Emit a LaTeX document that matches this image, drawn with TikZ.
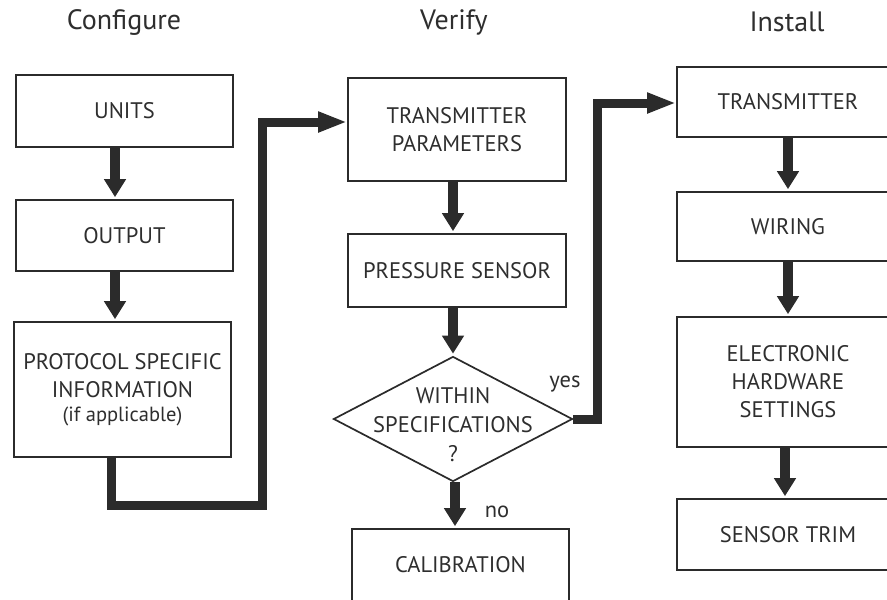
\documentclass[tikz,border=0pt]{standalone}
\usepackage{fontspec}
\setmainfont{PT Sans}
\usetikzlibrary{shapes.geometric,arrows.meta}
\definecolor{ink}{HTML}{2B2B2B}
\definecolor{txt}{HTML}{2E2E2E}
\begin{document}
\begin{tikzpicture}[x=1pt,y=-1pt,
  box/.style={draw=ink,line width=1.7pt,rectangle,minimum width=217pt,inner sep=0pt,
    text=txt,align=center,font=\fontsize{22.5}{28}\selectfont},
  dia/.style={draw=ink,line width=1.7pt,diamond,minimum width=239pt,minimum height=125pt,
    inner sep=0pt,text=txt,font=\fontsize{22.5}{29}\selectfont},
  title/.style={text=txt,font=\fontsize{28}{32}\selectfont,inner sep=0pt},
  lbl/.style={text=txt,font=\fontsize{22.5}{24}\selectfont,inner sep=0pt},
  varr/.style={draw=ink,line width=9.5pt,-{Triangle[length=18pt,width=21pt]},shorten >=2pt},
  elbow/.style={draw=ink,line width=9pt,line join=miter,-{Triangle[length=29pt,width=19pt]}},
]
\useasboundingbox (0,0) rectangle (887,600);
\clip (0,0) rectangle (887,600);
\fill[white] (0,0) rectangle (887,600);

% titles
\node[title] (tconf) at (124,22) {Configure};
\node[title] (tver) at (454,22) {Verify};
\node[title] (tinst) at (787,22) {Install};

% Configure column
\node[box,minimum height=72pt] (units) at (124.5,111) {UNITS};
\node[box,minimum height=71pt] (output) at (124.5,235.5) {OUTPUT};
\node[box,minimum height=135pt] (protocol) at (122.5,389.5)
  {\raisebox{5pt}{\begin{tabular}{@{}c@{}}PROTOCOL SPECIFIC\\INFORMATION\\[-4pt]{\fontsize{20.5}{22}\selectfont (if applicable)}\end{tabular}}};

% Verify column
\node[box,minimum width=218pt,minimum height=103pt] (tparam) at (457,129.5) {TRANSMITTER\\PARAMETERS};
\node[box,minimum width=218pt,minimum height=73pt] (psensor) at (457,270.5) {PRESSURE SENSOR};
\node[dia] (spec) at (453,419)
  {\smash{\makebox[0pt]{\raisebox{-13pt}{\begin{tabular}{@{}c@{}}WITHIN\\SPECIFICATIONS\\?\end{tabular}}}}};
\node[box,minimum height=72pt] (calib) at (460.5,565) {CALIBRATION};

% Install column
\node[box,minimum width=222pt,minimum height=70pt] (trans) at (788,102) {TRANSMITTER};
\node[box,minimum width=222pt,minimum height=69pt] (wiring) at (788,226.5) {WIRING};
\node[box,minimum width=222pt,minimum height=130pt] (elec) at (788,382) {ELECTRONIC\\HARDWARE\\SETTINGS};
\node[box,minimum width=222pt,minimum height=71pt] (strim) at (788,534.5) {SENSOR TRIM};

% vertical arrows
\draw[varr] (units.south -| 115,0) -- (output.north -| 115,0);
\draw[varr] (output.south -| 115,0) -- (protocol.north -| 115,0);
\draw[varr] (tparam.south -| 453,0) -- (psensor.north -| 453,0);
\draw[varr] (psensor.south -| 453,0) -- (spec.north);
\draw[varr] (spec.south -| 455,0) -- (calib.north -| 455,0);
\draw[varr] (trans.south -| 788,0) -- (wiring.north -| 788,0);
\draw[varr] (wiring.south -| 788,0) -- (elec.north -| 788,0);
\draw[varr] (elec.south -| 785,0) -- (strim.north -| 785,0);

% elbow connectors
\coordinate (c1) at (111,505);
\coordinate (c2) at (262,505);
\coordinate (c3) at (262,122);
\draw[elbow] (protocol.south -| c1) -- (c1) -- (c2) -- (c3) -- (tparam.west |- c3);
\coordinate (y1) at (597,419);
\coordinate (y2) at (597,103);
\draw[elbow] (spec.east) -- (y1) -- (y2) -- (trans.west |- y2);

% labels
\node[lbl] (yes) at (565,384) {yes};
\node[lbl] (no) at (497,512) {no};
\end{tikzpicture}
\end{document}
